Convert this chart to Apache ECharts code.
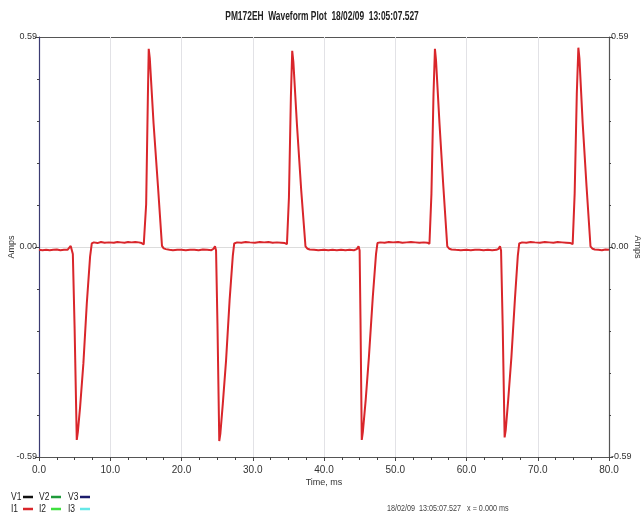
<!DOCTYPE html>
<html>
<head>
<meta charset="utf-8">
<title>PM172EH Waveform Plot</title>
<script src="https://cdn.jsdelivr.net/npm/echarts@6/dist/echarts.min.js"></script>
<style>
  html, body { margin: 0; padding: 0; background: #fff; }
  #waveform { width: 643px; height: 513px; }
</style>
</head>
<body>
<div id="waveform"></div>
<script>
// waveform I1, [time ms, amps], one cycle at a time
var cycle1 = [
    [0.0, -0.008], [0.5, -0.009], [1.0, -0.008], [1.5, -0.009], [2.0, -0.008], [2.5, -0.007],
    [3.0, -0.009], [3.5, -0.008], [4.0, -0.008], [4.25, -0.004], [4.45, 0.003], [4.65, -0.002],
    [4.75, -0.02], [5.0, -0.23], [5.3, -0.542], [5.45, -0.52], [5.77, -0.449], [6.23, -0.327],
    [6.71, -0.158], [7.17, -0.027], [7.41, 0.010], [7.7, 0.013], [8.2, 0.011], [8.7, 0.014],
    [9.2, 0.012], [9.8, 0.013], [10.5, 0.012], [11.0, 0.014], [11.5, 0.013], [12.0, 0.012],
    [12.5, 0.014], [13.0, 0.013], [13.5, 0.014], [14.0, 0.013], [14.4, 0.011], [14.7, 0.007],
    [14.98, 0.008], [15.04, 0.12], [15.28, 0.422], [15.4, 0.557], [15.55, 0.53], [16.08, 0.347],
    [16.7, 0.17], [17.26, 0.003], [17.5, -0.004], [17.8, -0.006], [18.3, -0.008], [18.8, -0.009],
    [19.4, -0.008]
];
var cycle2 = [
    [20.0, -0.008], [20.6, -0.009], [21.2, -0.008], [21.8, -0.008], [22.4, -0.009], [23.0, -0.007],
    [23.6, -0.008], [24.2, -0.009], [24.5, -0.005], [24.7, 0.002], [24.85, -0.01], [25.05, -0.22],
    [25.3, -0.545], [25.45, -0.525], [25.8, -0.44], [26.25, -0.32], [26.75, -0.15], [27.2, -0.025],
    [27.4, 0.010], [27.8, 0.013], [28.4, 0.012], [29.0, 0.014], [29.6, 0.013], [30.3, 0.012],
    [31.0, 0.014], [31.6, 0.013], [32.2, 0.014], [32.8, 0.012], [33.4, 0.013], [34.0, 0.012],
    [34.5, 0.011], [34.8, 0.008], [35.0, 0.009], [35.08, 0.14], [35.35, 0.42], [35.54, 0.551],
    [35.7, 0.52], [36.2, 0.345], [36.8, 0.16], [37.4, 0.002], [37.7, -0.005], [38.0, -0.007],
    [38.6, -0.008], [39.2, -0.009]
];
var cycle3 = [
    [40.0, -0.008], [40.6, -0.009], [41.2, -0.008], [41.8, -0.009], [42.4, -0.008], [43.0, -0.009],
    [43.6, -0.008], [44.2, -0.009], [44.6, -0.006], [44.85, 0.002], [45.0, -0.01], [45.12, -0.2],
    [45.3, -0.542], [45.45, -0.52], [45.85, -0.43], [46.3, -0.31], [46.85, -0.14], [47.3, -0.02],
    [47.5, 0.011], [47.9, 0.013], [48.5, 0.012], [49.1, 0.014], [49.7, 0.013], [50.4, 0.014],
    [51.0, 0.012], [51.6, 0.013], [52.2, 0.014], [52.8, 0.013], [53.4, 0.012], [54.0, 0.013],
    [54.5, 0.012], [54.8, 0.009], [55.0, 0.010], [55.08, 0.15], [55.37, 0.43], [55.57, 0.557],
    [55.72, 0.525], [56.2, 0.35], [56.75, 0.17], [57.3, 0.002], [57.6, -0.005], [57.9, -0.007],
    [58.5, -0.008], [59.2, -0.009]
];
var cycle4 = [
    [60.0, -0.008], [60.6, -0.009], [61.2, -0.008], [61.8, -0.008], [62.4, -0.009], [63.0, -0.008],
    [63.6, -0.009], [64.2, -0.008], [64.5, -0.005], [64.7, 0.002], [64.85, -0.01], [65.08, -0.22],
    [65.35, -0.535], [65.5, -0.515], [65.85, -0.43], [66.3, -0.31], [66.8, -0.145], [67.2, -0.025],
    [67.4, 0.010], [67.8, 0.013], [68.4, 0.012], [69.0, 0.014], [69.6, 0.013], [70.3, 0.012],
    [71.0, 0.014], [71.6, 0.013], [72.2, 0.012], [72.8, 0.014], [73.4, 0.013], [74.0, 0.012],
    [74.6, 0.011], [74.9, 0.008], [75.1, 0.009], [75.18, 0.15], [75.48, 0.43], [75.70, 0.560],
    [75.85, 0.53], [76.3, 0.35], [76.85, 0.17], [77.4, 0.002], [77.7, -0.005], [78.0, -0.007],
    [78.5, -0.008], [79.0, -0.009], [79.5, -0.007], [80.0, -0.008]
];

var yLimit = 0.59;
var xMax = 80;

var legendRows = [
    [['V1', '#111111'], ['V2', '#1f9a3a'], ['V3', '#1c1c6c']],
    [['I1', '#d9262b'], ['I2', '#3fe03f'], ['I3', '#66e8e8']]
];

var sans = '"Liberation Sans", Arial, sans-serif';

var chart = echarts.init(document.getElementById('waveform'));

buildGraphics = function () {
    var items = [];
    // condensed title, the original uses a narrow face
    items.push({
        type: 'text', x: 322, y: 17, scaleX: 0.7,
        style: {
            text: 'PM172EH  Waveform Plot  18/02/09  13:05:07.527',
            font: 'bold 12px ' + sans, fill: '#222', align: 'center', verticalAlign: 'middle'
        }
    });
    var legendX = [11, 39, 68];
    legendRows.forEach(function (row, r) {
        var y = 497 + r * 12;
        row.forEach(function (it, i) {
            var x = legendX[i];
            items.push({
                type: 'text', x: x, y: y, scaleX: 0.85,
                style: { text: it[0], font: '10px ' + sans, fill: '#222', verticalAlign: 'middle' }
            });
            items.push({
                type: 'line',
                shape: { x1: x + 12, y1: y, x2: x + 22, y2: y },
                style: { stroke: it[1], lineWidth: 2.5 }
            });
        });
    });
    items.push({
        type: 'text', x: 387, y: 509, scaleX: 0.8,
        style: { text: '18/02/09  13:05:07.527   x = 0.000 ms', font: '9px ' + sans, fill: '#444', verticalAlign: 'middle' }
    });
    return items;
};

var yAxisBase = function (pos, lineColor) {
    return {
        type: 'value',
        position: pos,
        min: -yLimit,
        max: yLimit,
        interval: yLimit,
        name: 'Amps',
        nameLocation: 'middle',
        nameMoveOverlap: false,
        nameGap: pos === 'left' ? 23 : 24,
        nameRotate: pos === 'left' ? 90 : -90,
        nameTextStyle: { fontFamily: sans, fontSize: 9, color: '#333' },
        axisLine: { show: true, onZero: false, lineStyle: { color: lineColor, width: 1.2 } },
        axisTick: { show: true, length: 4, lineStyle: { color: '#444' } },
        minorTick: { show: true, splitNumber: 5, length: 2, lineStyle: { color: '#444' } },
        axisLabel: {
            margin: 2,
            fontFamily: sans, fontSize: 9, color: '#333',
            formatter: function (v) { return v.toFixed(2); }
        },
        splitLine: { show: pos === 'left', lineStyle: { color: ['#555', '#dcdcdc', '#555'], width: 1 } }
    };
};

var option = {
    backgroundColor: '#fff',
    animation: false,
    grid: { left: 39, right: 34, top: 37, bottom: 56, containLabel: false, outerBoundsMode: 'none' },
    xAxis: {
        type: 'value',
        min: 0,
        max: xMax,
        interval: 10,
        name: 'Time, ms',
        nameLocation: 'middle',
        nameMoveOverlap: false,
        nameGap: 21,
        nameTextStyle: { fontFamily: sans, fontSize: 9, color: '#333' },
        axisLine: { onZero: false, lineStyle: { color: '#555', width: 1.2 } },
        axisTick: { length: 4, lineStyle: { color: '#444' } },
        minorTick: { show: true, splitNumber: 4, length: 3, lineStyle: { color: '#444' } },
        axisLabel: {
            margin: 8,
            fontFamily: sans, fontSize: 10, color: '#333',
            formatter: function (v) { return v.toFixed(1); }
        },
        splitLine: { show: true, lineStyle: { color: '#e2e2e6' } }
    },
    yAxis: [yAxisBase('left', '#3b3b72'), yAxisBase('right', '#555')],
    graphic: buildGraphics(),
    series: [{
        name: 'I1',
        type: 'line',
        showSymbol: false,
        yAxisIndex: 0,
        lineStyle: { color: '#d9262b', width: 2 },
        data: cycle1.concat(cycle2, cycle3, cycle4)
    }]
};
option && chart.setOption(option);
window.onresize = function () {
    chart.resize();
};
</script>
</body>
</html>
